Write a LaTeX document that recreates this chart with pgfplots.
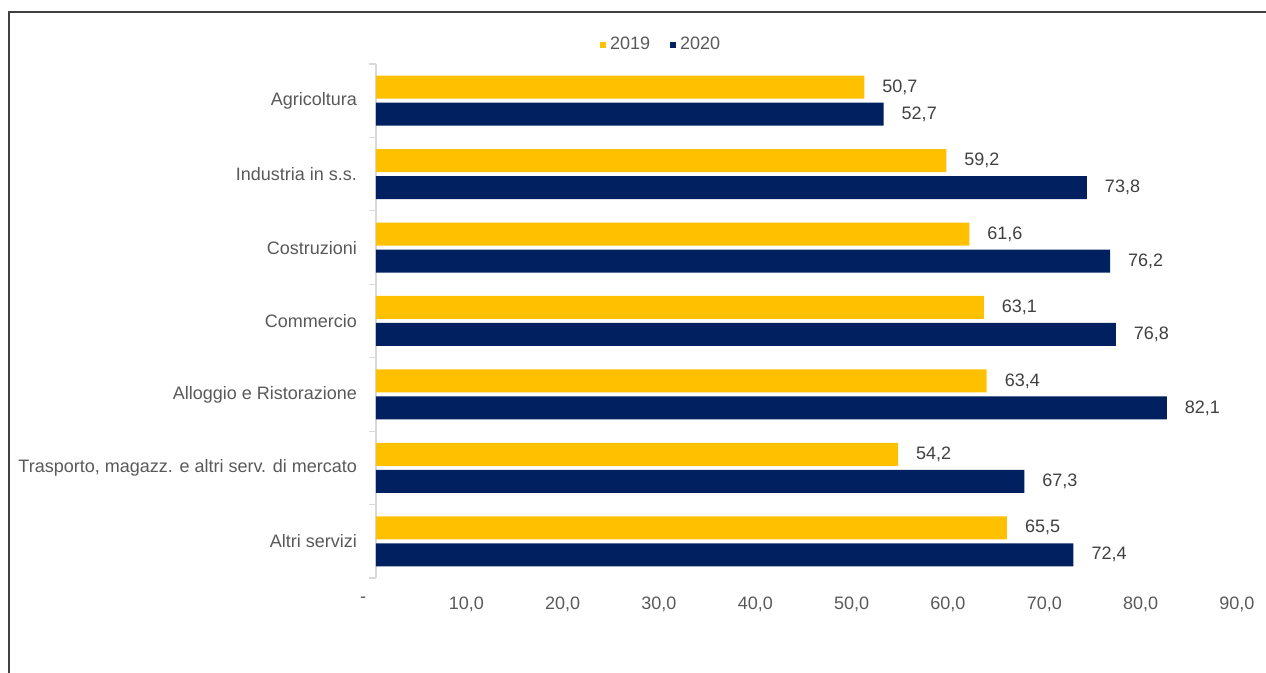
\documentclass[border=0pt]{standalone}
\usepackage{pgfplots}
\pgfplotsset{compat=1.18}
\usepackage{fontspec}
\setmainfont{Liberation Sans}
\definecolor{cYel}{HTML}{FFC000}
\definecolor{cNavy}{HTML}{002060}
\definecolor{cLab}{HTML}{595959}
\definecolor{cDat}{HTML}{404040}
\definecolor{cAx}{HTML}{D9D9D9}
\begin{document}
\begin{tikzpicture}
\useasboundingbox (0,0) rectangle (633pt,336.5pt);
\draw[color=black!75, line width=0.6pt] (4.5pt,0) -- (4.5pt,330.5pt) -- (633pt,330.5pt);
\begin{axis}[
  at={(188pt,47.5pt)}, anchor=south west,
  scale only axis, width=433.5pt, height=257pt,
  xmin=0, xmax=90, ymin=-0.5, ymax=6.5, y dir=reverse,
  xbar, bar width=11.5pt, clip=false,
  axis line style={draw=none},
  xtick={0,10,...,90},
  xticklabels={\llap{-\hspace{2pt}},{10,0},{20,0},{30,0},{40,0},{50,0},{60,0},{70,0},{80,0},{90,0}},
  ytick={0,...,6},
  yticklabels={Agricoltura,Industria in s.s.,Costruzioni,Commercio,Alloggio e Ristorazione,{Trasporto, magazz. e altri serv. di mercato},Altri servizi},
  minor ytick={-0.5,0.5,...,6.5},
  major tick length=0pt, minor tick length=3.5pt,
  tick align=outside, ytick pos=left, xtick pos=bottom,
  minor tick style={cAx, line width=0.6pt},
  every tick label/.append style={font=\fontsize{9}{11}\selectfont, text=cLab},
  xticklabel style={yshift=-6pt, xshift=-3pt},
  yticklabel style={xshift=-6pt},
  /pgf/number format/.cd, use comma, fixed, fixed zerofill, precision=1, assume math mode=true,
  /pgfplots/.cd,
  point meta=x,
  nodes near coords,
  every node near coord/.append style={font=\fontsize{9}{11}\selectfont, text=cDat, xshift=5.5pt},
  legend style={at={(0.33,1.037)}, anchor=center, draw=none, fill=none, font=\fontsize{9}{11}\selectfont, text=cLab, /tikz/every even column/.append style={column sep=8pt}},
  legend columns=2,
  legend image code/.code={\path[#1] (0pt,-1.5pt) rectangle (3pt,1.5pt);},
]
\draw[cAx, line width=0.6pt] (axis cs:0,-0.5) -- (axis cs:0,6.5);
\addplot[fill=cYel, draw=none, bar shift=6.75pt] coordinates {(50.7,0) (59.2,1) (61.6,2) (63.1,3) (63.4,4) (54.2,5) (65.5,6)};
\addplot[fill=cNavy, draw=none, bar shift=-6.75pt] coordinates {(52.7,0) (73.8,1) (76.2,2) (76.8,3) (82.1,4) (67.3,5) (72.4,6)};
\legend{2019,2020}
\end{axis}
\end{tikzpicture}
\end{document}
